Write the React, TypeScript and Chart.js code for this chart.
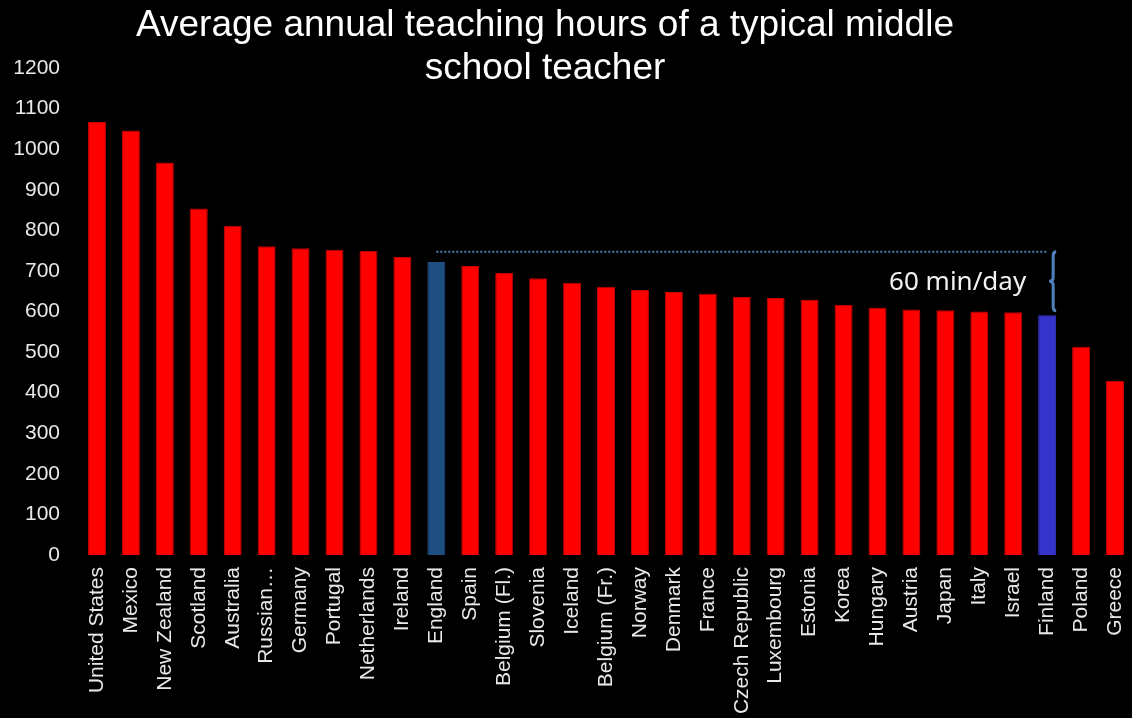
import React, { useEffect, useRef } from "react";
import { Chart, registerables } from "chart.js";

Chart.register(...registerables);

const titleLines = ["Average annual teaching hours of a typical middle", "school teacher"];

const categories = [
  "United States", "Mexico", "New Zealand", "Scotland", "Australia", "Russian…",
  "Germany", "Portugal", "Netherlands", "Ireland", "England", "Spain",
  "Belgium (Fl.)", "Slovenia", "Iceland", "Belgium (Fr.)", "Norway", "Denmark",
  "France", "Czech Republic", "Luxembourg", "Estonia", "Korea", "Hungary",
  "Austria", "Japan", "Italy", "Israel", "Finland", "Poland", "Greece",
];

const hours = [
  1067, 1046, 967, 854, 811, 761, 756, 752, 749, 734, 722, 712, 695, 682, 671,
  661, 653, 648, 644, 636, 633, 629, 616, 609, 605, 603, 600, 598, 591, 513, 429,
];

const highlightEngland = "England";
const highlightFinland = "Finland";

const yTicksMin = 0;
const yTicksMax = 1200;
const yTicksStep = 100;

// annotation: dotted reference level and brace
const refLevel = 747;
const braceBottom = 602;
const annotationText = "60 min/day";

const FONT = "'Liberation Sans', Arial, sans-serif";

export default function App() {
  const ref = useRef<HTMLCanvasElement | null>(null);

  useEffect(() => {
    document.body.style.margin = "0";
    document.body.style.background = "#000";
    const canvas = ref.current;
    if (!canvas) return;
    let chart: any = null;
    let cancelled = false;

    const colors = categories.map((c) =>
      c === highlightEngland ? "#1f4e80" : c === highlightFinland ? "#3535cc" : "#ff0000"
    );
    const borders = categories.map((c) =>
      c === highlightEngland ? "#1f4e80" : c === highlightFinland ? "#3535cc" : "#c00000"
    );

    const overlay = {
      id: "overlay",
      afterDraw(ch: any) {
        const ctx = ch.ctx;
        const xs = ch.scales.x;
        const ys = ch.scales.y;
        ctx.save();
        // title
        ctx.fillStyle = "#ffffff";
        ctx.font = `37px ${FONT}`;
        ctx.textAlign = "center";
        ctx.textBaseline = "alphabetic";
        ctx.fillText(titleLines[0], 545, 36);
        ctx.fillText(titleLines[1], 545, 79);

        // dotted line
        const iE = categories.indexOf(highlightEngland);
        const iF = categories.indexOf(highlightFinland);
        const x0 = xs.getPixelForValue(iE);
        const x1 = xs.getPixelForValue(iF);
        const yRef = ys.getPixelForValue(refLevel);
        const yBot = ys.getPixelForValue(braceBottom);
        ctx.strokeStyle = "#4f81bd";
        ctx.lineWidth = 2;
        ctx.setLineDash([2, 2]);
        ctx.beginPath();
        ctx.moveTo(x0, yRef);
        ctx.lineTo(x1, yRef);
        ctx.stroke();
        ctx.setLineDash([]);

        // brace
        const bx = x1 + 6;
        const mid = (yRef + yBot) / 2;
        ctx.lineWidth = 3;
        ctx.strokeStyle = "#4f81bd";
        ctx.beginPath();
        ctx.moveTo(bx + 3, yRef);
        ctx.quadraticCurveTo(bx, yRef, bx, yRef + 4);
        ctx.lineTo(bx, mid - 4);
        ctx.quadraticCurveTo(bx, mid, bx - 4, mid);
        ctx.quadraticCurveTo(bx, mid, bx, mid + 4);
        ctx.lineTo(bx, yBot - 4);
        ctx.quadraticCurveTo(bx, yBot, bx + 3, yBot);
        ctx.stroke();

        // text
        ctx.fillStyle = "#f2f2f2";
        ctx.font = `26px 'Noto Sans', 'Open Sans', sans-serif`;
        ctx.textAlign = "right";
        ctx.textBaseline = "middle";
        ctx.fillText(annotationText, bx - 27, mid + 1);
        ctx.restore();
      },
    };

    const build = () => {
      if (cancelled) return;
      chart = new Chart(canvas, {
        type: "bar",
        data: {
          labels: categories,
          datasets: [
            {
              data: hours,
              backgroundColor: colors,
              borderColor: borders,
              borderWidth: 1,
              barPercentage: 0.53,
              categoryPercentage: 1,
            },
          ],
        },
        options: {
          responsive: false,
          animation: false,
          layout: { padding: { top: 68, left: 0, right: 0, bottom: 0 } },
          plugins: {
            legend: { display: false },
            title: { display: false },
            tooltip: { enabled: false },
          },
          scales: {
            x: {
              grid: { display: false, drawTicks: false },
              border: { display: false },
              ticks: {
                color: "#e8e8e8",
                font: { family: FONT, size: 21 },
                autoSkip: false,
                minRotation: 90,
                maxRotation: 90,
                padding: 12,
              },
              afterFit(scale: any) {
                scale.height = 163;
                scale.paddingLeft = 0;
                scale.paddingRight = 0;
              },
            },
            y: {
              min: yTicksMin,
              max: yTicksMax,
              grid: { display: false, drawTicks: false },
              border: { display: false },
              ticks: {
                stepSize: yTicksStep,
                color: "#e8e8e8",
                font: { family: FONT, size: 21 },
                padding: 20,
                callback: (v: any) => String(v),
              },
              afterFit(scale: any) {
                scale.width = 80;
              },
            },
          },
        },
        plugins: [overlay],
      });
    };

    const fonts: any = (document as any).fonts;
    if (fonts && fonts.load) {
      Promise.all([
        fonts.load("21px 'Liberation Sans'"),
        fonts.load("37px 'Liberation Sans'"),
        fonts.load("26px 'Noto Sans'"),
      ])
        .catch(() => null)
        .then(build);
    } else {
      build();
    }

    return () => {
      cancelled = true;
      if (chart) chart.destroy();
    };
  }, []);

  return (
    <div style={{ position: "fixed", left: 0, top: 0, width: 1132, height: 718, background: "#000", overflow: "hidden" }}>
      <canvas ref={ref} width={1132} height={718} style={{ display: "block" }} />
    </div>
  );
}
